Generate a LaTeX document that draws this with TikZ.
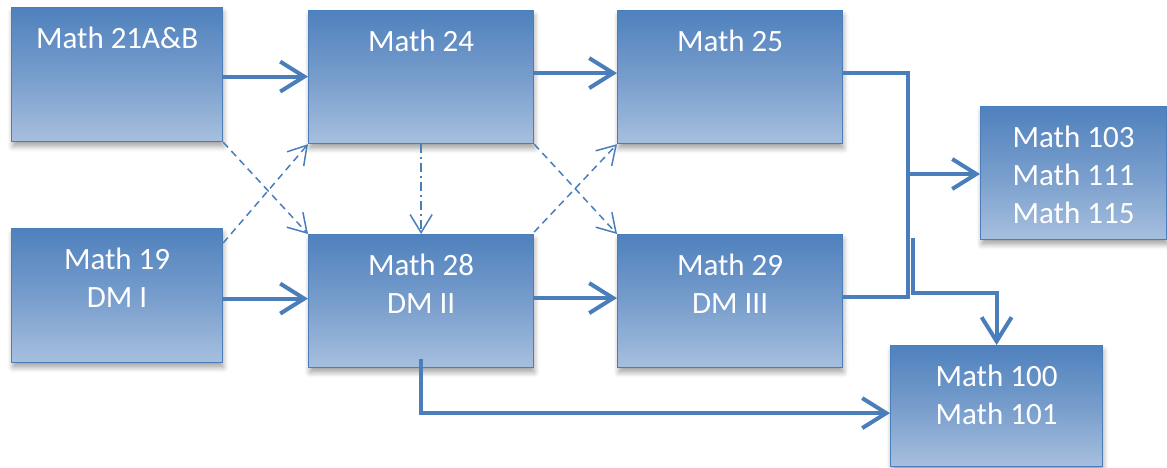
\documentclass[tikz,border=0pt]{standalone}
\usepackage{fontspec}
\setmainfont{Carlito}
\usetikzlibrary{arrows.meta,positioning,shadows.blur}
\definecolor{CourseTop}{HTML}{4F81BD}
\definecolor{CourseBottom}{HTML}{A7BFDE}
\definecolor{CourseEdge}{HTML}{4A7EBB}
\definecolor{LinkBlue}{HTML}{4A7EBB}
\tikzset{
  course/.style={draw=CourseEdge, line width=1.2pt, anchor=north west, inner sep=0pt,
                 top color=CourseTop, bottom color=CourseBottom,
                 middle color=CourseTop!55!CourseBottom,
                 blur shadow={shadow xshift=1pt, shadow yshift=-5pt,
                              shadow blur radius=5pt, shadow opacity=35}},
  title/.style={anchor=north, yshift=-20pt, inner sep=0pt, align=center,
                text=white, font=\fontsize{31}{38}\selectfont},
  flow/.style={-{Straight Barb[length=24pt,width=30pt,line width=4pt]},
               line width=4pt, draw=LinkBlue},
  link/.style={line width=4pt, draw=LinkBlue},
  cross/.style={-{Straight Barb[length=18pt,width=22pt,line width=1.5pt]},
                line width=1.5pt, draw=LinkBlue, dash pattern=on 7pt off 5pt},
  downlink/.style={cross, dash pattern=on 9pt off 4pt on 2pt off 4pt}
}

\begin{document}
\begin{tikzpicture}[x=1pt, y=-1pt]
  \useasboundingbox (0,0) rectangle (1167,468);
  % course boxes
  \node[course, minimum width=211pt, minimum height=134pt,
        label={[title]north:Math 21A\&B}] (m21) at (11,7) {};
  \node[course, minimum width=225pt, minimum height=133pt,
        label={[title]north:Math 24}] (m24) at (308,10) {};
  \node[course, minimum width=225pt, minimum height=133pt,
        label={[title]north:Math 25}] (m25) at (617,10) {};
  \node[course, minimum width=211pt, minimum height=134pt,
        label={[title]north:{Math 19\\DM I}}] (m19) at (11,228) {};
  \node[course, minimum width=225pt, minimum height=133pt,
        label={[title]north:{Math 28\\DM II}}] (m28) at (308,234) {};
  \node[course, minimum width=225pt, minimum height=133pt,
        label={[title]north:{Math 29\\DM III}}] (m29) at (617,234) {};
  \node[course, minimum width=186pt, minimum height=133pt,
        label={[title]north:{Math 103\\Math 111\\Math 115}}] (m103) at (980,106) {};
  \node[course, minimum width=212pt, minimum height=121pt,
        label={[title]north:{Math 100\\Math 101}}] (m100) at (890,345) {};

  % solid prerequisites
  \draw[flow] ([yshift=-2pt]m21.east) -- ([yshift=-2pt]m21.east -| m24.west);
  \draw[flow] ([yshift=4pt]m24.east) -- ([yshift=4pt]m24.east -| m25.west);
  \draw[flow] ([yshift=-3pt]m19.east) -- ([yshift=-3pt]m19.east -| m28.west);
  \draw[flow] ([yshift=3pt]m28.east) -- ([yshift=3pt]m28.east -| m29.west);

  % upper division
  \coordinate (join) at (908,174);
  \coordinate (split) at (913,238);
  \draw[link] ([yshift=4pt]m25.east) -| (join) |- ([yshift=4pt]m29.east);
  \draw[flow] (join) -- (join -| m103.west);
  \draw[flow] (split) |- ([yshift=52pt]m100.north) -- (m100.north);
  \draw[flow] ([yshift=9pt]m28.south) |- ([yshift=-7pt]m100.west);

  % either order
  \draw[cross] (m21.south east) -- (m28.north west);
  \draw[cross] ([yshift=-15pt]m19.north east) -- (m24.south west);
  \draw[cross] (m24.south east) -- (m29.north west);
  \draw[cross] ([yshift=2pt]m28.north east) -- (m25.south west);
  \draw[downlink] (m24.south) -- (m28.north);
\end{tikzpicture}
\end{document}
